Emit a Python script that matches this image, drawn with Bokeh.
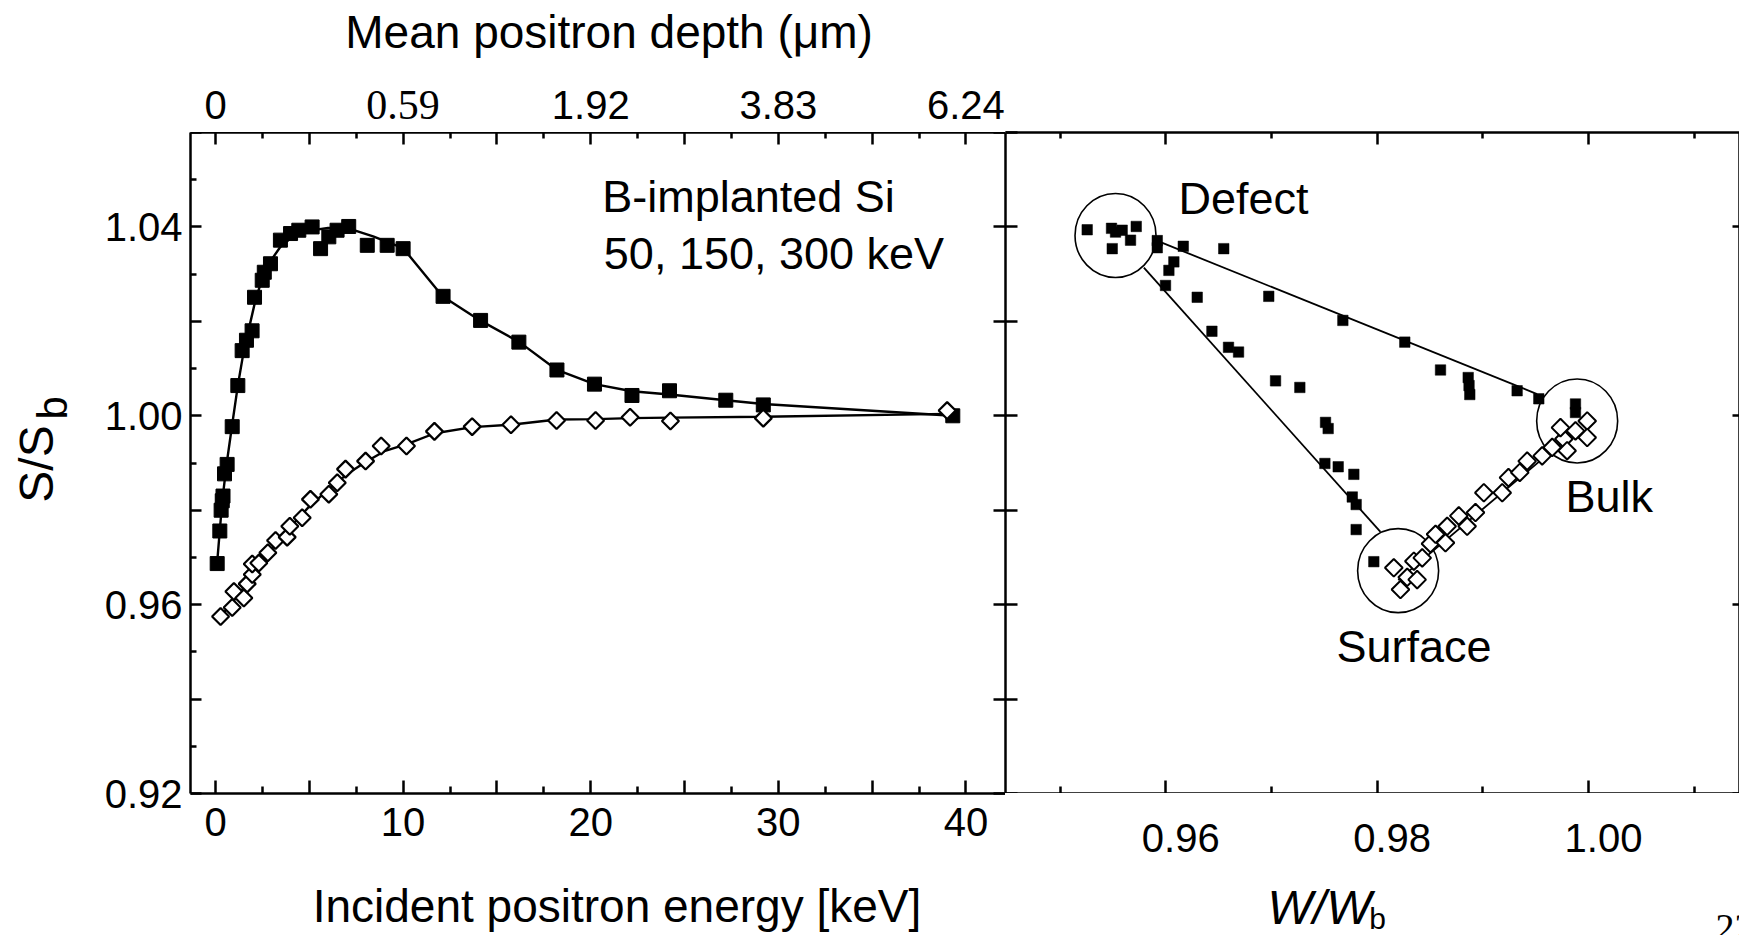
import numpy as np
from bokeh.plotting import figure
from bokeh.models import Range1d, LinearAxis, FixedTicker
from bokeh.layouts import row, column
from bokeh.embed import file_html
from bokeh.resources import INLINE
from bokeh.core.properties import value

# ---------------- Data: left panel (S/Sb vs incident energy) ----------------
e_implanted = [0.09, 0.23, 0.30, 0.36, 0.40, 0.48, 0.62, 0.89, 1.19, 1.42, 1.65, 1.95,
               2.08, 2.49, 2.60, 2.93, 3.46, 4.00, 4.44, 5.15, 5.60, 6.04, 6.48, 7.10,
               8.09, 9.15, 10.00, 12.13, 14.13, 16.17, 18.20, 20.20, 22.20, 24.20,
               27.20, 29.20, 39.30]
s_implanted = [0.9687, 0.9756, 0.9800, 0.9820, 0.9830, 0.9877, 0.9897, 0.9977, 1.0064,
               1.0138, 1.0160, 1.0180, 1.0251, 1.0287, 1.0304, 1.0322, 1.0372, 1.0386,
               1.0393, 1.0400, 1.0354, 1.0379, 1.0393, 1.0401, 1.0361, 1.0361, 1.0354,
               1.0253, 1.0202, 1.0156, 1.0097, 1.0067, 1.0043, 1.0053, 1.0033, 1.0023,
               1.0000]
e_fit_implanted = [0.09, 0.36, 0.60, 0.92, 1.19, 1.51, 1.87, 2.13, 2.66, 3.46, 4.0, 5.0,
                   6.0, 7.0, 8.4, 10.0, 12.1, 14.1, 16.2, 18.2, 20.2, 22.2, 24.2, 27.2,
                   29.2, 39.3]
s_fit_implanted = [0.969, 0.982, 0.990, 0.999, 1.0064, 1.0138, 1.0200, 1.0245, 1.0312,
                   1.0358, 1.0376, 1.0392, 1.0398, 1.0398, 1.0380, 1.0355, 1.0253, 1.0202,
                   1.0156, 1.0097, 1.0067, 1.0052, 1.0045, 1.0033, 1.0025, 1.0000]

e_unimplanted = [0.27, 0.89, 0.98, 1.51, 1.69, 1.96, 1.96, 2.31, 2.79, 3.20, 3.82, 3.96,
                 4.62, 5.06, 6.04, 6.49, 6.93, 8.00, 8.83, 10.18, 11.67, 13.68, 15.75,
                 18.18, 20.26, 22.10, 24.25, 29.20, 39.00]
s_unimplanted = [0.9575, 0.9594, 0.9628, 0.9614, 0.9644, 0.9664, 0.9686, 0.9688, 0.9710,
                 0.9736, 0.9743, 0.9766, 0.9784, 0.9823, 0.9834, 0.9858, 0.9887, 0.9904,
                 0.9936, 0.9936, 0.9967, 0.9977, 0.9981, 0.9990, 0.9990, 0.9997, 0.9989,
                 0.9995, 1.0011]
e_fit_unimplanted = [0.27, 1.0, 2.0, 3.0, 4.0, 5.0, 6.0, 7.0, 8.0, 9.0, 10.2, 11.7, 13.7,
                     15.75, 18.2, 20.3, 22.1, 24.25, 29.2, 39.0]
s_fit_unimplanted = [0.9575, 0.9610, 0.9662, 0.9718, 0.9765, 0.9808, 0.9843, 0.9876,
                     0.9902, 0.9925, 0.9940, 0.9963, 0.9976, 0.9981, 0.9992, 0.9993,
                     0.9995, 0.9996, 0.9998, 1.0004]

energy_major_ticks = [0, 5, 10, 15, 20, 25, 30, 35, 40]
energy_minor_ticks = [2.5, 7.5, 12.5, 17.5, 22.5, 27.5, 32.5, 37.5]
energy_labels = {0: "0", 10: "10", 20: "20", 30: "30", 40: "40"}
depth_ticks = [0, 10, 20, 30, 40]
depth_labels = ["0", "0.59", "1.92", "3.83", "6.24"]
s_major_ticks = [0.92, 0.94, 0.96, 0.98, 1.00, 1.02, 1.04, 1.06]
s_minor_ticks = [0.93, 0.95, 0.97, 0.99, 1.01, 1.03, 1.05]
s_labels = {0.92: "0.92", 0.96: "0.96", 1.00: "1.00", 1.04: "1.04"}

# ---------------- Data: right panel (S/Sb vs W/Wb) ----------------
w_implanted = [0.95257, 0.95487, 0.95494, 0.95525, 0.95588, 0.95667, 0.95721, 0.95920,
               0.95920, 0.96166, 0.96549, 0.96077, 0.96030, 0.95998, 0.96298, 0.96975,
               0.97676, 0.98262, 0.98600, 0.98862, 0.98870, 0.98877, 0.96437, 0.96594,
               0.96689, 0.97039, 0.97269, 0.97512, 0.97537, 0.97506, 0.97632, 0.97780,
               0.97765, 0.97802, 0.97802, 0.97969, 0.99325, 0.99530, 0.99877, 0.99877]
sw_implanted = [1.0394, 1.0397, 1.0354, 1.0389, 1.0393, 1.0372, 1.0401, 1.0371, 1.0356,
                1.0359, 1.0354, 1.0326, 1.0308, 1.0276, 1.0251, 1.0253, 1.0202, 1.0156,
                1.0097, 1.0081, 1.0064, 1.0045, 1.0179, 1.0145, 1.0135, 1.0074, 1.0060,
                0.9986, 0.9973, 0.9899, 0.9892, 0.9876, 0.9828, 0.9812, 0.9759, 0.9691,
                1.0053, 1.0036, 1.0025, 1.0007]
w_unimplanted = [0.98158, 0.98221, 0.98285, 0.98348, 0.98379, 0.98427, 0.98505, 0.98553,
                 0.98647, 0.98663, 0.98773, 0.98852, 0.98931, 0.99010, 0.99184, 0.99243,
                 0.99350, 0.99420, 0.99562, 0.99657, 0.99767, 0.99735, 0.99798, 0.99877,
                 0.99988, 0.99988]
sw_unimplanted = [0.9678, 0.9632, 0.9658, 0.9692, 0.9653, 0.9699, 0.9729, 0.9749, 0.9731,
                  0.9766, 0.9788, 0.9766, 0.9795, 0.9837, 0.9837, 0.9869, 0.9880, 0.9904,
                  0.9915, 0.9933, 0.9951, 0.9975, 0.9926, 0.9968, 0.9989, 0.9954]
upper_line_w = [0.95904, 0.99514]
upper_line_s = [1.0372, 1.0046]
lower_line_w = [0.95793, 0.98032]
lower_line_s = [1.0314, 0.9754]
unimpl_line_w = [0.98200, 0.99900]
unimpl_line_s = [0.9652, 0.9972]
region_names = ["Defect", "Bulk", "Surface"]
region_w = [0.95525, 0.99893, 0.98199]
region_s = [1.0382, 0.9989, 0.9672]

w_major_ticks = [0.96, 0.98, 1.00]
w_minor_ticks = [0.95, 0.97, 0.99, 1.01]
w_labels = ["0.96", "0.98", "1.00"]

FONT = "Liberation Sans"
SERIF = "Liberation Serif"
LW = 2.5
COMMON = dict(output_backend="svg", toolbar_location=None,
              x_axis_location=None, y_axis_location=None)
NO_BORDER = dict(min_border_left=0, min_border_right=0, min_border_top=0, min_border_bottom=0)


def style_axis(ax, major, minor, labels, tin, tin_minor, size, standoff):
    ax.ticker = FixedTicker(ticks=major, minor_ticks=minor)
    ax.major_label_overrides = labels
    ax.major_tick_in = tin
    ax.major_tick_out = 0
    ax.minor_tick_in = tin_minor
    ax.minor_tick_out = 0
    ax.major_tick_line_width = LW
    ax.minor_tick_line_width = LW
    ax.major_tick_line_color = "black"
    ax.minor_tick_line_color = "black" if minor else None
    ax.axis_line_width = LW
    ax.axis_line_color = "black"
    ax.major_label_text_font = FONT
    ax.major_label_text_font_size = f"{size}px"
    ax.major_label_text_color = "black"
    ax.major_label_standoff = standoff


def blank_labels(ticks):
    return {t: "" for t in ticks}


def tick_only_axis(p, side, major, minor, tin, tin_minor):
    ax = LinearAxis()
    style_axis(ax, major, minor, blank_labels(major), tin, tin_minor, 0, 0)
    p.add_layout(ax, side)


def clean(p):
    p.grid.visible = False
    p.outline_line_color = None
    p.background_fill_color = "white"
    p.border_fill_color = "white"


def put_text(p, x, y, txt, size, font=FONT, align="center", style="normal", angle=0.0,
             x_offset=0):
    p.text(x=x, y=y, text=txt, angle=angle, x_offset=x_offset, text_font=value(font),
           text_font_style=style, text_font_size=f"{size}px", text_color="black",
           text_align=align, text_baseline="middle")


# ---------------- Left panel ----------------
p1 = figure(width=905, height=721, x_range=Range1d(-1.333, 42.11), y_range=Range1d(0.92, 1.06),
            min_border_left=90, min_border_right=0, min_border_top=0, min_border_bottom=60,
            **COMMON)
clean(p1)

ax = LinearAxis()
style_axis(ax, s_major_ticks, s_minor_ticks, {**blank_labels(s_major_ticks), **s_labels}, 11, 6, 40, 8)
p1.add_layout(ax, "left")
ax = LinearAxis()
style_axis(ax, energy_major_ticks, energy_minor_ticks,
           {**blank_labels(energy_major_ticks), **energy_labels}, 13, 7, 40, 14)
p1.add_layout(ax, "below")
tick_only_axis(p1, "above", energy_major_ticks, energy_minor_ticks, 12, 6)
tick_only_axis(p1, "right", s_major_ticks, [], 12, 0)

p1.line(e_fit_implanted, s_fit_implanted, line_color="black", line_width=2.4)
p1.line(e_fit_unimplanted, s_fit_unimplanted, line_color="black", line_width=2.4)
p1.scatter(e_implanted, s_implanted, marker="square", size=14,
           fill_color="black", line_color="black", line_width=1)
p1.scatter(e_unimplanted, s_unimplanted, marker="square", angle=np.pi / 4, size=12,
           fill_color="white", line_color="black", line_width=2.2)
put_text(p1, [20.61, 20.7], [1.04637, 1.03435], ["B-implanted Si", "50, 150, 300 keV"],
         45, align="left")

# ---------------- Top strip: depth scale (shares the energy range) ----------------
ptop = figure(width=1005, height=132, x_range=p1.x_range, y_range=Range1d(0, 132),
              min_border_left=190, min_border_right=0, min_border_top=0, min_border_bottom=0,
              **COMMON)
clean(ptop)
sans_idx = [i for i in range(len(depth_ticks)) if i != 1]
put_text(ptop, [depth_ticks[i] for i in sans_idx], [28] * len(sans_idx),
         [depth_labels[i] for i in sans_idx], 40)
put_text(ptop, [depth_ticks[1]], [28], [depth_labels[1]], 42, font=SERIF)
put_text(ptop, [20.98], [101], ["Mean positron depth (μm)"], 46)

# ---------------- Bottom strip: energy axis title ----------------
pbot = figure(width=1005, height=82, x_range=p1.x_range, y_range=Range1d(0, 82),
              min_border_left=190, min_border_right=0, min_border_top=0, min_border_bottom=0,
              **COMMON)
clean(pbot)
put_text(pbot, [21.4], [30], ["Incident positron energy [keV]"], 46)

# ---------------- Left strip: y title S/Sb (frame aligned with the left panel) ----------------
p0 = figure(width=100, height=721, x_range=Range1d(0, 100), y_range=p1.y_range,
            min_border_left=0, min_border_right=0, min_border_top=0, min_border_bottom=60,
            **COMMON)
clean(p0)
put_text(p0, [36], [0.98979], ["S/S"], 48, angle=np.pi / 2)
put_text(p0, [52], [1.0017], ["b"], 42, angle=np.pi / 2)

# ---------------- Right panel ----------------
p2 = figure(width=734, height=793, x_range=Range1d(0.94484, 1.01429), y_range=Range1d(0.92, 1.06),
            min_border_left=0, min_border_right=0, min_border_top=132, min_border_bottom=0,
            **COMMON)
clean(p2)
tick_only_axis(p2, "left", s_major_ticks, [], 12, 0)
tick_only_axis(p2, "right", [0.92, 0.96, 1.00, 1.04], [], 7, 0)
tick_only_axis(p2, "below", w_major_ticks, w_minor_ticks, 13, 7)
tick_only_axis(p2, "above", w_major_ticks, w_minor_ticks, 12, 6)

p2.line(upper_line_w, upper_line_s, line_color="black", line_width=1.8)
p2.line(lower_line_w, lower_line_s, line_color="black", line_width=1.8)
p2.line(unimpl_line_w, unimpl_line_s, line_color="black", line_width=1.8)
p2.ellipse(x=region_w, y=region_s, width=81, height=84, width_units="screen",
           height_units="screen", fill_color=None, line_color="black", line_width=1.6)
p2.scatter(w_implanted, sw_implanted, marker="square", size=10.5,
           fill_color="black", line_color="black", line_width=0.5)
p2.scatter(w_unimplanted, sw_unimplanted, marker="square", angle=np.pi / 4, size=12.5,
           fill_color="white", line_color="black", line_width=2)
put_text(p2, [0.96121, 0.99782, 0.97616], [1.04603, 0.98291, 0.95115], region_names,
         45, align="left")

# ---------------- Bottom strip under right panel: W tick labels, W/Wb title ----------------
p3 = figure(width=734, height=142, x_range=p2.x_range, y_range=Range1d(0, 142),
            **NO_BORDER, **COMMON)
clean(p3)
put_text(p3, w_major_ticks, [98] * len(w_major_ticks), w_labels, 40, x_offset=15)
put_text(p3, [0.97455], [28], ["W/W"], 48, style="italic")
put_text(p3, [0.98004], [17], ["b"], 30)
put_text(p3, [1.01381], [8], ["22"], 38, font=SERIF)

layout = row(column(ptop, row(p0, p1), pbot), column(p2, p3))
open("out.html", "w").write(file_html(layout, INLINE))
